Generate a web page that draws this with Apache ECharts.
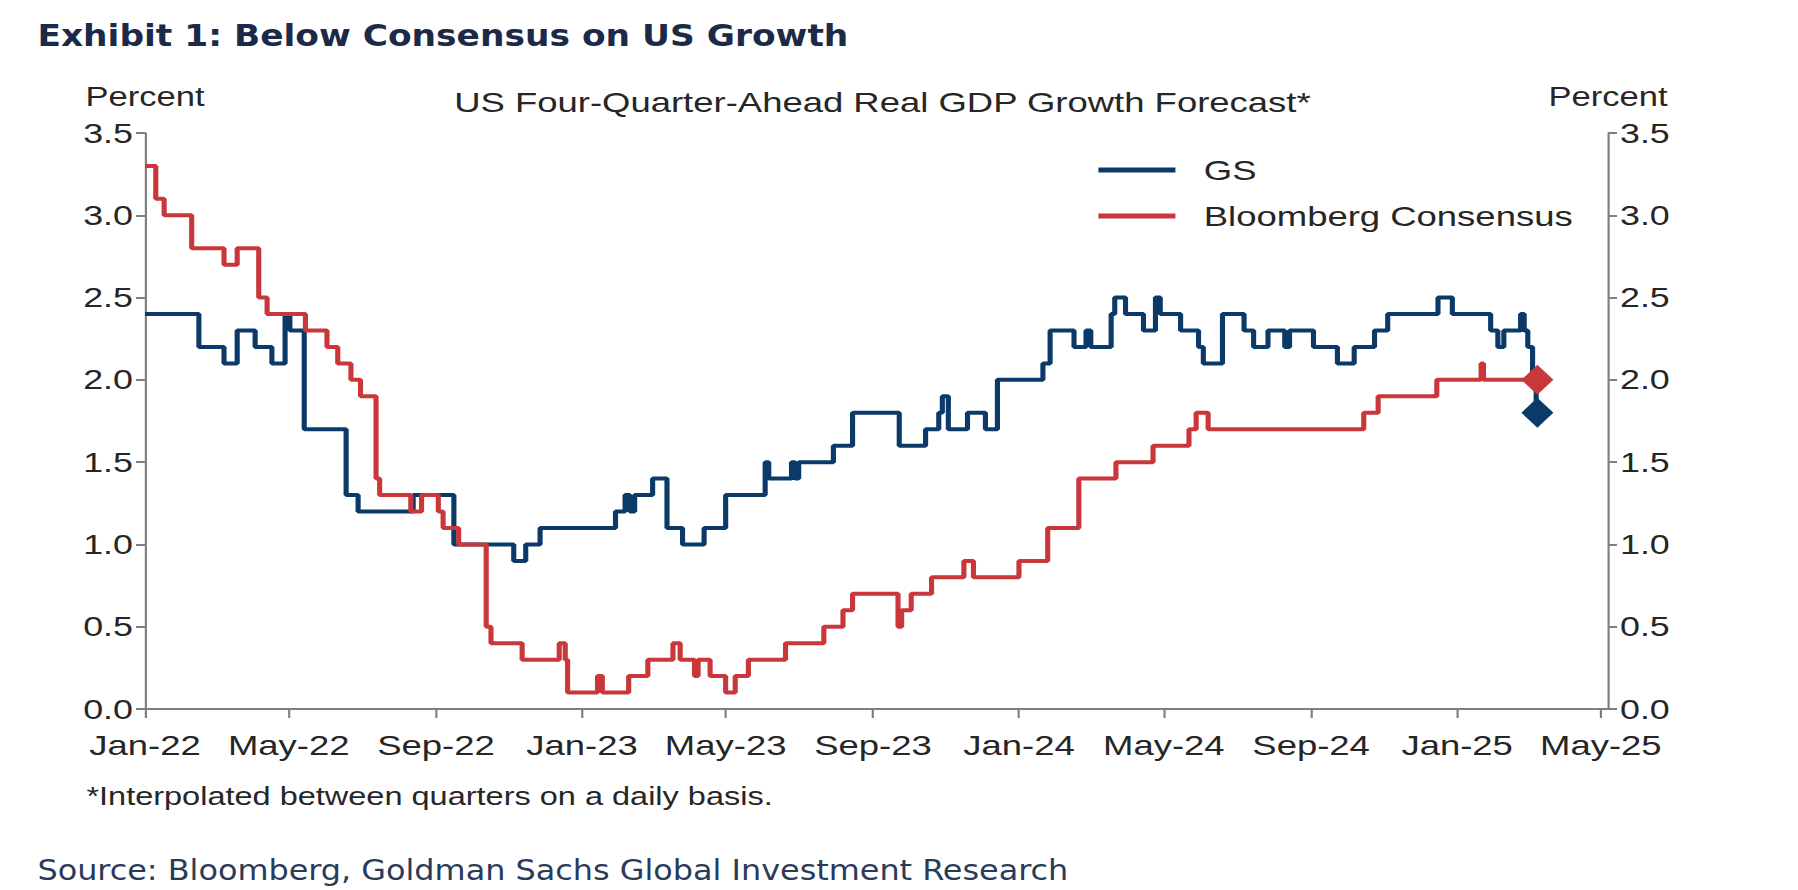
<!DOCTYPE html>
<html>
<head>
<meta charset="utf-8">
<script src="https://cdn.jsdelivr.net/npm/echarts@6/dist/echarts.min.js"></script>
<style>
html,body{margin:0;padding:0;background:#ffffff;overflow:hidden;}
#c{height:890px;transform-origin:0 0;}
</style>
</head>
<body>
<div id="c"></div>
<script>
// ---- Data ----
const gsDates = ['2022-01-01','2022-02-15','2022-03-08','2022-03-19','2022-04-03','2022-04-17','2022-04-28','2022-05-02','2022-05-14','2022-06-18','2022-06-28','2022-08-13','2022-09-16','2022-11-05','2022-11-15','2022-11-27','2023-01-29','2023-02-06','2023-02-10','2023-02-14','2023-03-01','2023-03-13','2023-03-26','2023-04-13','2023-05-01','2023-06-03','2023-06-06','2023-06-25','2023-06-28','2023-07-01','2023-07-30','2023-08-15','2023-09-23','2023-10-15','2023-10-26','2023-10-29','2023-11-03','2023-11-19','2023-12-04','2023-12-14','2024-01-21','2024-01-27','2024-02-16','2024-02-26','2024-03-01','2024-03-18','2024-03-21','2024-03-30','2024-04-14','2024-04-24','2024-04-28','2024-05-15','2024-05-30','2024-06-03','2024-06-19','2024-07-07','2024-07-15','2024-07-27','2024-08-10','2024-08-14','2024-09-03','2024-09-23','2024-10-07','2024-10-24','2024-11-04','2024-12-16','2024-12-28','2025-01-29','2025-02-04','2025-02-09','2025-02-23','2025-02-26','2025-03-01','2025-03-05','2025-03-08'];
const gsValues = [2.4,2.2,2.1,2.3,2.2,2.1,2.4,2.3,1.7,1.3,1.2,1.3,1.0,0.9,1.0,1.1,1.2,1.3,1.2,1.3,1.4,1.1,1.0,1.1,1.3,1.5,1.4,1.5,1.4,1.5,1.6,1.8,1.6,1.7,1.8,1.9,1.7,1.8,1.7,2.0,2.1,2.3,2.2,2.3,2.2,2.4,2.5,2.4,2.3,2.5,2.4,2.3,2.2,2.1,2.4,2.3,2.2,2.3,2.2,2.3,2.2,2.1,2.2,2.3,2.4,2.5,2.4,2.3,2.2,2.3,2.4,2.3,2.2,2.0,1.8];

const bbgDates = ['2022-01-01','2022-01-10','2022-01-17','2022-02-09','2022-03-08','2022-03-19','2022-04-06','2022-04-13','2022-05-15','2022-06-02','2022-06-11','2022-06-22','2022-06-30','2022-07-13','2022-07-16','2022-08-11','2022-08-20','2022-09-03','2022-09-07','2022-09-20','2022-10-13','2022-10-17','2022-11-12','2022-12-13','2022-12-18','2022-12-20','2023-01-14','2023-01-18','2023-02-09','2023-02-25','2023-03-18','2023-03-24','2023-04-05','2023-04-08','2023-04-18','2023-05-01','2023-05-09','2023-05-20','2023-06-20','2023-07-22','2023-08-07','2023-08-15','2023-09-22','2023-09-25','2023-10-03','2023-10-20','2023-11-16','2023-11-24','2024-01-01','2024-01-25','2024-02-20','2024-03-22','2024-04-22','2024-05-22','2024-05-28','2024-06-07','2024-10-15','2024-10-27','2024-12-15','2025-01-21','2025-01-23','2025-03-08'];
const bbgValues = [3.3,3.1,3.0,2.8,2.7,2.8,2.5,2.4,2.3,2.2,2.1,2.0,1.9,1.4,1.3,1.2,1.3,1.2,1.1,1.0,0.5,0.4,0.3,0.4,0.3,0.1,0.2,0.1,0.2,0.3,0.4,0.3,0.2,0.3,0.2,0.1,0.2,0.3,0.4,0.5,0.6,0.7,0.5,0.6,0.7,0.8,0.9,0.8,0.9,1.1,1.4,1.5,1.6,1.7,1.8,1.7,1.8,1.9,2.0,2.1,2.0,2.0];

const latestDate = '2025-03-09';
const gsLatest = 1.8;
const bbgLatest = 2.0;

const tickDates = ['2022-01-01','2022-05-01','2022-09-01','2023-01-01','2023-05-01','2023-09-01','2024-01-01','2024-05-01','2024-09-01','2025-01-01','2025-05-01'];
const tickLabels = ['Jan-22','May-22','Sep-22','Jan-23','May-23','Sep-23','Jan-24','May-24','Sep-24','Jan-25','May-25'];

const axisStart = '2022-01-01';
const axisEnd = '2025-05-07';

const titleText = 'Exhibit 1: Below Consensus on US Growth';
const subtitleText = 'US Four-Quarter-Ahead Real GDP Growth Forecast*';
const noteText = '*Interpolated between quarters on a daily basis.';
const sourceText = 'Source: Bloomberg, Goldman Sachs Global Investment Research';

// ---- Helpers ----
function ts(s){ const p = s.split('-').map(Number); return Date.UTC(p[0], p[1]-1, p[2]); }
function pairs(ds, vs){ return ds.map((d,i)=>[ts(d), vs[i]]); }
const tickTs = tickDates.map(ts);
function labelFor(v){
  for (let i = 0; i < tickTs.length; i++) { if (Math.abs(tickTs[i] - v) < 3600000) return tickLabels[i]; }
  return '';
}

// The reference picture is horizontally stretched; reproduce that stretch on the whole chart.
const W = 1405, S = 1798 / W;
const el = document.getElementById('c');
el.style.width = W + 'px';
el.style.transform = 'scaleX(' + S + ')';
const X = v => v / S;   // convert a target-picture x distance to chart space

// font availability / fitting (condensed face for title and source line)
const mctx = document.createElement('canvas').getContext('2d');
function textW(font, t){ mctx.font = font; return mctx.measureText(t).width; }
function hasFont(name){
  const probe = 'abcdefghijklmnopqrstuvwxyz ABCDEFGHIJ 0123456789';
  return ['monospace','serif'].every(g => textW('72px "' + name + '", ' + g, probe) !== textW('72px ' + g, probe));
}
const COND = hasFont('Liberation Sans Narrow') ? "'Liberation Sans Narrow'" : "'DejaVu Sans Condensed'";
function fitSize(weight, text, targetW){ return Math.round(100 * targetW / textW(weight + ' 100px ' + COND, text) * 10) / 10; }
const titleSize = Math.min(38, fitSize('bold', titleText, X(812)));
const sourceSize = Math.min(34, fitSize('normal', sourceText, X(1030)));

const NAVY = '#0b3a68';
const RED = '#c9373a';
const AXIS = '#7f7f7f';
const TXT = '#262626';
const ARIAL = "'Liberation Sans', Arial, sans-serif";

const chart = echarts.init(el, null, {renderer:'svg', width: W, height: 890});

function yAxisCfg(pos){
  return {
    type: 'value', position: pos, min: 0, max: 3.5, interval: 0.5,
    name: 'Percent', nameLocation: 'end', nameGap: 23,
    nameTextStyle: { color: TXT, fontSize: 27, fontFamily: ARIAL, align: 'center' },
    axisLine: { show: true, lineStyle: { color: AXIS, width: 1.7 } },
    axisTick: { show: true, length: X(9), lineStyle: { color: AXIS, width: 2 } },
    axisLabel: { color: TXT, fontSize: 28, fontFamily: ARIAL, margin: X(12), formatter: v => v.toFixed(1) },
    splitLine: { show: false }
  };
}

chart.setOption({
  animation: false,
  backgroundColor: '#ffffff',
  title: [
    { text: titleText, left: X(31), top: 30 - titleSize / 2,
      textStyle: { fontFamily: COND, fontWeight: 'bold', fontSize: titleSize, color: '#1c2a48' } },
    { text: subtitleText, left: X(876), top: 82, textAlign: 'center',
      textStyle: { fontFamily: ARIAL, fontWeight: 'normal', fontSize: 28.5, color: TXT } },
    { text: noteText, left: X(80), top: 779,
      textStyle: { fontFamily: ARIAL, fontWeight: 'normal', fontSize: 25.4, color: TXT } },
    { text: sourceText, left: X(31), top: 865 - sourceSize / 2,
      textStyle: { fontFamily: COND, fontWeight: 'normal', fontSize: sourceSize, color: '#2a3b5a' } }
  ],
  legend: {
    data: ['GS', 'Bloomberg Consensus'],
    orient: 'vertical', left: X(1092), top: 150,
    icon: 'rect', itemWidth: X(77), itemHeight: 5, itemGap: 16,
    textStyle: { fontFamily: ARIAL, fontSize: 28.5, color: TXT, padding: [0,0,0,X(22)], lineHeight: 30 }
  },
  grid: { left: X(145), right: W - X(1608), top: 133, bottom: 181, containLabel: false },
  xAxis: {
    type: 'value', min: ts(axisStart), max: ts(axisEnd),
    axisLine: { show: true, lineStyle: { color: AXIS, width: 2 } },
    axisTick: { show: true, length: 9, customValues: tickTs, lineStyle: { color: AXIS, width: 1.7 } },
    axisLabel: { customValues: tickTs, color: TXT, fontSize: 28.5, fontFamily: ARIAL, margin: 21,
      showMinLabel: true, showMaxLabel: true, formatter: v => labelFor(v) },
    splitLine: { show: false }
  },
  yAxis: [ yAxisCfg('left'), yAxisCfg('right') ],
  series: [
    { name: 'GS', type: 'line', step: 'end', yAxisIndex: 0, showSymbol: false, symbol: 'none',
      data: pairs(gsDates, gsValues), lineStyle: { color: NAVY, width: 4 }, itemStyle: { color: NAVY }, z: 3 },
    { name: 'Bloomberg Consensus', type: 'line', step: 'end', yAxisIndex: 0, showSymbol: false, symbol: 'none',
      data: pairs(bbgDates, bbgValues), lineStyle: { color: RED, width: 4 }, itemStyle: { color: RED }, z: 4 },
    { name: 'GS latest', type: 'scatter', symbol: 'diamond', symbolSize: [X(32), 30],
      data: [[ts(latestDate), gsLatest]], itemStyle: { color: NAVY, opacity: 1 }, z: 5 },
    { name: 'Bloomberg latest', type: 'scatter', symbol: 'diamond', symbolSize: [X(32), 30],
      data: [[ts(latestDate), bbgLatest]], itemStyle: { color: RED, opacity: 1 }, z: 6 }
  ]
});
</script>
</body>
</html>
